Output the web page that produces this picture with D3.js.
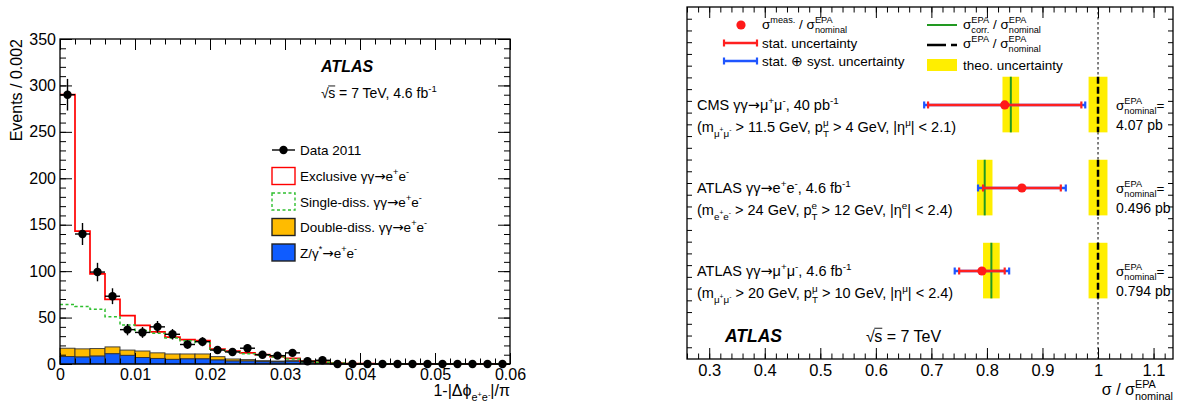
<!DOCTYPE html>
<html lang="en">
<head>
<meta charset="UTF-8">
<title>Exclusive dilepton production</title>
<script src="https://d3js.org/d3.v7.min.js"></script>
<style>
  body { margin: 0; background: #fff; }
  svg { font-family: "Liberation Sans", Arial, sans-serif; }
  text { white-space: pre; fill: #000; }
  .axis path { display: none; }
  .axis line { stroke: #000; stroke-width: 1; }
</style>
</head>
<body>
<svg id="chart" width="1182" height="407"></svg>
<script>
// ---------- data: left panel (events per 0.002 bin, bins 0 .. 0.06) ----------
const binWidth = 0.002;
const dataCounts = [290, 140, 99, 73, 37, 34, 40, 32, 21, 24, 15, 13, 17, 10, 9, 12, 3, 4, 0, 0,
                    0, 0, 0, 0, 0, 0, 0, 0, 0, 0];
const zGamma     = [8, 7.5, 8.5, 11, 9.3, 7, 6, 5, 5.5, 5.5, 4.3, 3.2, 3.2, 2.5, 2.2, 2.9, 1.2, 0.8, 0.5, 0.3,
                    0.2, 0.1, 0, 0, 0, 0, 0, 0, 0, 0];
const doubleDiss = [9, 8.8, 8.1, 7.4, 5.7, 7, 6, 5.8, 5.3, 5.3, 3.6, 2.2, 1.5, 1.1, 1.0, 0.7, 0.6, 0.5, 0.3, 0.2,
                    0.1, 0.05, 0, 0, 0, 0, 0, 0, 0, 0];
const singleDiss = [47, 45.7, 42.4, 32.6, 27, 22, 21, 17.2, 14.2, 12.2, 7.1, 7.6, 6.3, 5.9, 4.3, 1.9, 1.0, 0.6, 0.2, 0,
                    0, 0, 0, 0, 0, 0, 0, 0, 0, 0];
const exclusive  = [226, 81, 38, 18.5, 10, 5.5, 1.5, 1, 1.3, 2.3, 1, 1, 1, 0.5, 0.5, 0.5, 0.2, 0.1, 0, 0,
                    0, 0, 0, 0, 0, 0, 0, 0, 0, 0];
const xTicksL = [0, 0.01, 0.02, 0.03, 0.04, 0.05, 0.06];
const xTickLabelsL = ["0", "0.01", "0.02", "0.03", "0.04", "0.05", "0.06"];
const yTicksL = [0, 50, 100, 150, 200, 250, 300, 350];
const yTickLabelsL = ["0", "50", "100", "150", "200", "250", "300", "350"];

// ---------- data: right panel (ratio to nominal EPA) ----------
const rowPos       = [3, 2, 1];
const measValue    = [0.832, 0.863, 0.791];
const statErr      = [0.138, 0.070, 0.041];
const totalErr     = [0.145, 0.079, 0.049];
const corrEPA      = [0.843, 0.796, 0.808];
const corrTheoErr  = [0.015, 0.014, 0.015];
const nominalTheoErr = [0.017, 0.017, 0.017];
const nominalXsec  = ["4.07 pb", "0.496 pb", "0.794 pb"];
const xTicksR = [0.3, 0.4, 0.5, 0.6, 0.7, 0.8, 0.9, 1.0, 1.1];
const xTickLabelsR = ["0.3", "0.4", "0.5", "0.6", "0.7", "0.8", "0.9", "1", "1.1"];

const arrow = {t: "→", font: "DejaVu Sans"};
const mumu = ["μ", {sup: "+"}, "μ", {sup: "-"}];
const ee = ["e", {sup: "+"}, "e", {sup: "-"}];
const rowLine1 = [
  ["CMS γγ", arrow, ...mumu, ", 40 pb", {sup: "-1"}],
  ["ATLAS γγ", arrow, ...ee, ", 4.6 fb", {sup: "-1"}],
  ["ATLAS γγ", arrow, ...mumu, ", 4.6 fb", {sup: "-1"}]
];
const rowLine2 = [
  ["(m", {sub: mumu}, " > 11.5 GeV, p", {sup: "μ", sub: "T"}, " > 4 GeV, |η", {sup: "μ"}, "| < 2.1)"],
  ["(m", {sub: ee}, " > 24 GeV, p", {sup: "e", sub: "T"}, " > 12 GeV, |η", {sup: "e"}, "| < 2.4)"],
  ["(m", {sub: mumu}, " > 20 GeV, p", {sup: "μ", sub: "T"}, " > 10 GeV, |η", {sup: "μ"}, "| < 2.4)"]
];

const svg = d3.select("#chart");

// rich text with super/subscripts, measured piece by piece
function richParts(g, x, y, fs, parts) {
  let cx = x;
  (Array.isArray(parts) ? parts : [parts]).forEach(p => {
    if (typeof p === "string" || p.t !== undefined) {
      const t = g.append("text").attr("x", cx).attr("y", y).attr("font-size", fs)
        .text(typeof p === "string" ? p : p.t);
      if (p.font) t.attr("font-family", p.font);
      cx += t.node().getComputedTextLength();
    } else if (p.sqrt) {
      const r = g.append("text").attr("x", cx).attr("y", y).attr("font-size", fs).text("√");
      cx += r.node().getComputedTextLength() - 0.5;
      const w = richParts(g, cx, y, fs, p.sqrt);
      g.append("line").attr("x1", cx).attr("x2", cx + w)
        .attr("y1", y - 0.86 * fs).attr("y2", y - 0.86 * fs)
        .attr("stroke", "#000").attr("stroke-width", 0.9);
      cx += w;
    } else {
      let w = 0;
      if (p.sup) w = Math.max(w, richParts(g, cx, y - 0.42 * fs, fs * 0.68, p.sup));
      if (p.sub) w = Math.max(w, richParts(g, cx, y + 0.32 * fs, fs * 0.68, p.sub));
      cx += w;
    }
  });
  return cx - x;
}
function rich(x, y, fs, parts, opt = {}) {
  const g = svg.append("g");
  if (opt.bold) g.attr("font-weight", "bold");
  if (opt.italic) g.attr("font-style", "italic");
  const w = richParts(g, 0, 0, fs, parts);
  const dx = opt.anchor === "end" ? x - w : x;
  g.attr("transform", `translate(${dx},${y})`);
  return g;
}

function drawAxis(transform, gen, values, size, labels, fs, pad) {
  const a = gen.tickValues(values).tickSize(size).tickPadding(pad || 3)
    .tickFormat(labels ? (d, i) => labels[i] : () => "");
  const g = svg.append("g").attr("class", "axis").attr("transform", transform).call(a);
  g.attr("font-family", null).attr("font-size", fs || 10);
  return g;
}

// =================== LEFT PANEL ===================
const xL = d3.scaleLinear().domain([0, 0.06]).range([60, 510]);
const yL = d3.scaleLinear().domain([0, 350]).range([364, 39]);

const rows = dataCounts.map((c, i) => ({
  x0: i * binWidth, z: zGamma[i], dd: doubleDiss[i], sd: singleDiss[i], ex: exclusive[i]
}));
const stacked = d3.stack().keys(["z", "dd", "sd", "ex"])(rows);

function fillBins(layer, color) {
  svg.append("g").selectAll("rect")
    .data(layer.filter(d => d[1] > d[0]))
    .join("rect")
    .attr("x", d => xL(d.data.x0))
    .attr("width", xL(binWidth) - xL(0))
    .attr("y", d => yL(d[1]))
    .attr("height", d => yL(d[0]) - yL(d[1]))
    .attr("fill", color)
    .attr("stroke", "#333")
    .attr("stroke-width", 0.9);
}
fillBins(stacked[1], "#ffbb00");
fillBins(stacked[0], "#0f5cff");

const step = d3.line().x(d => xL(d[0])).y(d => yL(d[1])).curve(d3.curveStepAfter);
function stepPoints(layer) {
  const pts = layer.map(d => [d.data.x0, d[1]]);
  pts.push([0.06, layer[layer.length - 1][1]]);
  return pts;
}
svg.append("path").attr("d", step(stepPoints(stacked[3])))
  .attr("fill", "none").attr("stroke", "#ff0000").attr("stroke-width", 1.7);
svg.append("path").attr("d", step(stepPoints(stacked[2])))
  .attr("fill", "none").attr("stroke", "#2fbf2f").attr("stroke-width", 1.5)
  .attr("stroke-dasharray", "3,2.5");

// data points
const pts = svg.append("g");
dataCounts.forEach((c, i) => {
  const xc = (i + 0.5) * binWidth;
  pts.append("line").attr("x1", xL(i * binWidth)).attr("x2", xL((i + 1) * binWidth))
    .attr("y1", yL(c)).attr("y2", yL(c)).attr("stroke", "#000").attr("stroke-width", 1.4);
  if (c > 0) {
    const e = Math.sqrt(c);
    pts.append("line").attr("x1", xL(xc)).attr("x2", xL(xc))
      .attr("y1", yL(c - e)).attr("y2", yL(c + e)).attr("stroke", "#000").attr("stroke-width", 1.4);
  }
  pts.append("circle").attr("cx", xL(xc)).attr("cy", yL(c)).attr("r", 4.2).attr("fill", "#000");
});

// frame and ticks
svg.append("rect").attr("x", 60).attr("y", 39).attr("width", 450).attr("height", 325)
  .attr("fill", "none").attr("stroke", "#000").attr("stroke-width", 1.3);
const xMinorL = d3.range(0, 31).map(i => i * 0.002);
const yMinorL = d3.range(0, 36).map(i => i * 10);
drawAxis("translate(0,364)", d3.axisBottom(xL), xTicksL, -11, xTickLabelsL, 16, 5);
drawAxis("translate(0,364)", d3.axisBottom(xL), xMinorL, -5.5);
drawAxis("translate(0,39)", d3.axisTop(xL), xTicksL, -11);
drawAxis("translate(0,39)", d3.axisTop(xL), xMinorL, -5.5);
drawAxis("translate(60,0)", d3.axisLeft(yL), yTicksL, -12, yTickLabelsL, 16, 4);
drawAxis("translate(60,0)", d3.axisLeft(yL), yMinorL, -6);
drawAxis("translate(510,0)", d3.axisRight(yL), yTicksL, -12);
drawAxis("translate(510,0)", d3.axisRight(yL), yMinorL, -6);

// titles
svg.append("text").attr("transform", "translate(22,39) rotate(-90)")
  .attr("text-anchor", "end").attr("font-size", 16).text("Events / 0.002");
rich(510, 396, 16, ["1-|Δϕ", {sub: ee}, "|/π"], {anchor: "end"});
rich(321, 72, 16, ["ATLAS"], {bold: true, italic: true});
rich(321, 98, 14, [{sqrt: "s"}, " = 7 TeV, 4.6 fb", {sup: "-1"}]);

// legend
const legL = svg.append("g");
const legY = [150, 176, 201.5, 227, 252.5];
legL.append("line").attr("x1", 272).attr("x2", 295).attr("y1", legY[0]).attr("y2", legY[0])
  .attr("stroke", "#000").attr("stroke-width", 1.4);
legL.append("circle").attr("cx", 283.5).attr("cy", legY[0]).attr("r", 4.2).attr("fill", "#000");
const legBoxes = [
  {fill: "#fff", stroke: "#ff0000", dash: null},
  {fill: "#fff", stroke: "#2fbf2f", dash: "3,2.5"},
  {fill: "#ffbb00", stroke: "#222", dash: null},
  {fill: "#0f5cff", stroke: "#222", dash: null}
];
legBoxes.forEach((b, i) => {
  legL.append("rect").attr("x", 272).attr("y", legY[i + 1] - 8.5).attr("width", 23).attr("height", 17)
    .attr("fill", b.fill).attr("stroke", b.stroke).attr("stroke-width", 1.4)
    .attr("stroke-dasharray", b.dash);
});
const legLabelsL = [
  ["Data 2011"],
  ["Exclusive γγ", arrow, ...ee],
  ["Single-diss. γγ", arrow, ...ee],
  ["Double-diss. γγ", arrow, ...ee],
  ["Z/γ", {sup: "*"}, arrow, ...ee]
];
legLabelsL.forEach((l, i) => rich(300, legY[i] + 5, 13.5, l));

// =================== RIGHT PANEL ===================
const xR = d3.scaleLinear().domain([0.26, 1.135]).range([687, 1173]);
const yR = d3.scaleLinear().domain([-0.06, 4.18]).range([359, 7]);

svg.append("line").attr("x1", xR(1)).attr("x2", xR(1)).attr("y1", 7).attr("y2", 359)
  .attr("stroke", "#000").attr("stroke-width", 1).attr("stroke-dasharray", "2.5,2.5");

rowPos.forEach((r, i) => {
  const yc = yR(r), top = yR(r + 0.34), bot = yR(r - 0.33);
  // theory bands
  svg.append("rect").attr("x", xR(corrEPA[i] - corrTheoErr[i])).attr("y", top)
    .attr("width", xR(corrEPA[i] + corrTheoErr[i]) - xR(corrEPA[i] - corrTheoErr[i]))
    .attr("height", bot - top).attr("fill", "#ffee00");
  svg.append("rect").attr("x", xR(1 - nominalTheoErr[i])).attr("y", top)
    .attr("width", xR(1 + nominalTheoErr[i]) - xR(1 - nominalTheoErr[i]))
    .attr("height", bot - top).attr("fill", "#ffee00");
  svg.append("line").attr("x1", xR(corrEPA[i])).attr("x2", xR(corrEPA[i])).attr("y1", top).attr("y2", bot)
    .attr("stroke", "#229922").attr("stroke-width", 2);
  svg.append("line").attr("x1", xR(1)).attr("x2", xR(1)).attr("y1", top).attr("y2", bot)
    .attr("stroke", "#000").attr("stroke-width", 2.5).attr("stroke-dasharray", "7,3");
  // error bars
  [[totalErr[i], "#1f55ff"], [statErr[i], "#ff2020"]].forEach(([e, col]) => {
    const x1 = xR(measValue[i] - e), x2 = xR(measValue[i] + e);
    svg.append("line").attr("x1", x1).attr("x2", x2).attr("y1", yc).attr("y2", yc)
      .attr("stroke", col).attr("stroke-width", 2.5);
    [x1, x2].forEach(xx => svg.append("line").attr("x1", xx).attr("x2", xx)
      .attr("y1", yc - 3.5).attr("y2", yc + 3.5).attr("stroke", col).attr("stroke-width", 2.2));
  });
  svg.append("circle").attr("cx", xR(measValue[i])).attr("cy", yc).attr("r", 4.6).attr("fill", "#ff1a1a");
  // labels
  rich(697, yc + 5, 14.5, rowLine1[i]);
  rich(697, yc + 27, 14.5, rowLine2[i]);
  rich(1116, yc + 5, 13.5, ["σ", {sup: "EPA", sub: "nominal"}, "="]);
  rich(1116, yc + 25, 14, [nominalXsec[i]]);
});

// frame and ticks
svg.append("rect").attr("x", 687).attr("y", 7).attr("width", 486).attr("height", 352)
  .attr("fill", "none").attr("stroke", "#000").attr("stroke-width", 1.3);
const xMinorR = d3.range(0, 44).map(i => 0.26 + i * 0.02);
const yEdge = d3.scaleLinear().domain([0, 30]).range([359, 7]);
const yEdgeTicks = d3.range(1, 30);
drawAxis("translate(0,359)", d3.axisBottom(xR), xTicksR, -11, xTickLabelsR, 16.5, 5);
drawAxis("translate(0,359)", d3.axisBottom(xR), xMinorR, -5.5);
drawAxis("translate(0,7)", d3.axisTop(xR), xTicksR, -11);
drawAxis("translate(0,7)", d3.axisTop(xR), xMinorR, -5.5);
drawAxis("translate(687,0)", d3.axisLeft(yEdge), yEdgeTicks, -5);
drawAxis("translate(1173,0)", d3.axisRight(yEdge), yEdgeTicks, -5);

rich(1173, 395, 16, ["σ / σ", {sup: "EPA", sub: "nominal"}], {anchor: "end"});
rich(725, 342, 17.5, ["ATLAS"], {bold: true, italic: true});
rich(866, 342, 16, [{sqrt: "s"}, " = 7 TeV"]);

// legend
const legR = svg.append("g");
legR.append("circle").attr("cx", 741).attr("cy", 25).attr("r", 4.6).attr("fill", "#ff1a1a");
[[43, "#ff2020"], [61, "#1f55ff"]].forEach(([y, col]) => {
  legR.append("line").attr("x1", 724).attr("x2", 757).attr("y1", y).attr("y2", y)
    .attr("stroke", col).attr("stroke-width", 2.5);
  [724, 757].forEach(xx => legR.append("line").attr("x1", xx).attr("x2", xx)
    .attr("y1", y - 3.5).attr("y2", y + 3.5).attr("stroke", col).attr("stroke-width", 2.2));
});
legR.append("line").attr("x1", 927).attr("x2", 957).attr("y1", 25).attr("y2", 25)
  .attr("stroke", "#229922").attr("stroke-width", 2);
legR.append("line").attr("x1", 927).attr("x2", 957).attr("y1", 45).attr("y2", 45)
  .attr("stroke", "#000").attr("stroke-width", 2.5).attr("stroke-dasharray", "19,5,6,100");
legR.append("rect").attr("x", 927).attr("y", 59).attr("width", 30).attr("height", 12).attr("fill", "#ffee00");

rich(762, 29, 13.5, ["σ", {sup: "meas."}, " / σ", {sup: "EPA", sub: "nominal"}]);
rich(762, 48, 13.5, ["stat. uncertainty"]);
rich(762, 66, 13.5, ["stat. ⊕ syst. uncertainty"]);
rich(963, 29, 13.5, ["σ", {sup: "EPA", sub: "corr."}, " / σ", {sup: "EPA", sub: "nominal"}]);
rich(963, 48, 13.5, ["σ", {sup: "EPA"}, " / σ", {sup: "EPA", sub: "nominal"}]);
rich(963, 70, 13.5, ["theo. uncertainty"]);
</script>
</body>
</html>
